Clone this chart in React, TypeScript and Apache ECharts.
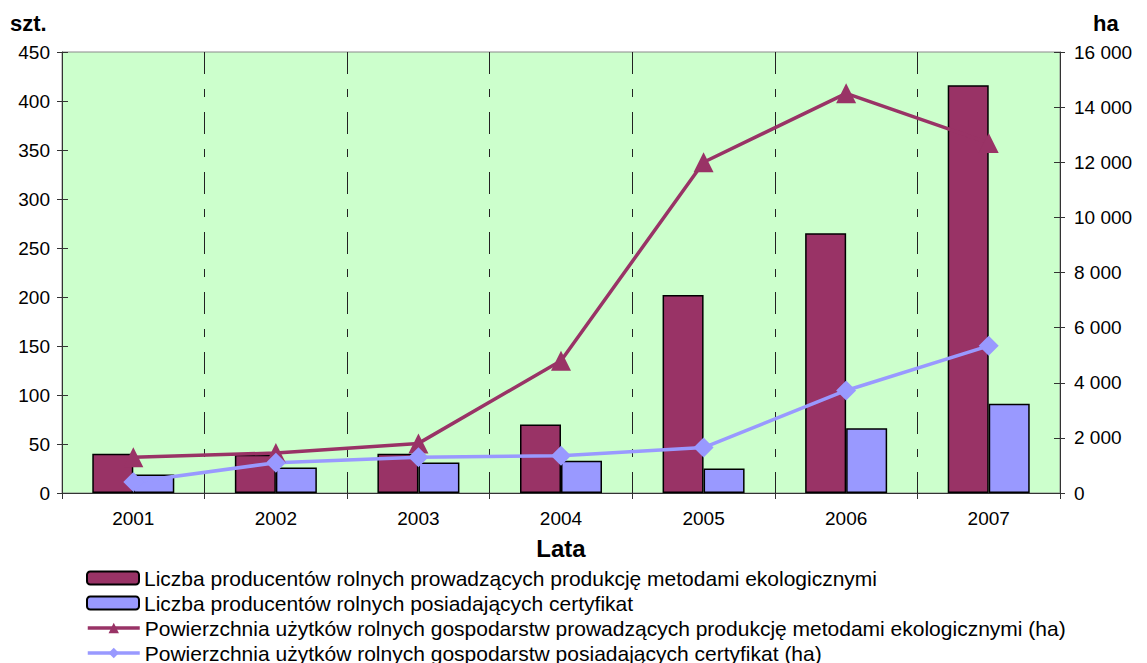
import React, { useEffect, useRef } from "react";
import * as echarts from "echarts";

const years = ["2001", "2002", "2003", "2004", "2005", "2006", "2007"];
const producersEco = [40, 39, 40, 70, 202, 265, 416];
const producersCert = [19, 26, 31, 33, 25, 66, 91];
const areaEco = [1300, 1450, 1800, 4800, 12000, 14500, 12700];
const areaCert = [400, 1100, 1300, 1350, 1650, 3720, 5340];

const seriesNames = [
  "Liczba producentów rolnych prowadzących produkcję metodami ekologicznymi",
  "Liczba producentów rolnych posiadających certyfikat",
  "Powierzchnia użytków rolnych gospodarstw prowadzących produkcję metodami ekologicznymi (ha)",
  "Powierzchnia użytków rolnych gospodarstw posiadających certyfikat (ha)",
];

const FONT = "'Liberation Sans', Arial, sans-serif";
const MAROON = "#993366";
const LILAC = "#9999FF";

export default function App() {
  const ref = useRef<HTMLDivElement>(null);
  useEffect(() => {
    document.body.style.margin = "0";
    const chart = echarts.init(ref.current!, null, { renderer: "svg" });
    const labelStyle = { color: "#000", fontSize: 19, fontFamily: FONT };
    const legends = seriesNames.map((name, i) => ({
      orient: "vertical",
      left: 86,
      top: 567 + i * 25,
      padding: 0,
      itemWidth: 52,
      itemHeight: 13,
      lineStyle: i >= 2 ? { width: 3.5 } : undefined,
      textStyle: { color: "#000", fontSize: 21, lineHeight: 22, fontFamily: FONT },
      data: [name],
    }));
    chart.setOption({
      animation: false,
      backgroundColor: "#fff",
      textStyle: { fontFamily: FONT },
      grid: {
        left: 62,
        right: 87,
        top: 52,
        bottom: 170,
        show: true,
        backgroundColor: "#CCFFCC",
        borderColor: "#8a8a8a",
        borderWidth: 1,
      },
      graphic: [
        { type: "text", left: 10, top: 12, style: { text: "szt.", font: `bold 22px ${FONT}`, fill: "#000" } },
        { type: "text", left: 1093, top: 12, style: { text: "ha", font: `bold 22px ${FONT}`, fill: "#000" } },
      ],
      legend: legends,
      xAxis: {
        type: "category",
        data: years,
        boundaryGap: true,
        name: "Lata",
        nameLocation: "middle",
        nameGap: 43,
        nameTextStyle: { color: "#000", fontSize: 24, fontWeight: "bold", fontFamily: FONT },
        axisLine: { lineStyle: { color: "#333", width: 1 } },
        axisTick: { show: true, length: 6, lineStyle: { color: "#333" } },
        axisLabel: { ...labelStyle, margin: 16 },
        splitLine: { show: true, lineStyle: { color: "#222", width: 1, type: [22, 15, 8, 15] } },
      },
      yAxis: [
        {
          type: "value",
          min: 0,
          max: 450,
          interval: 50,
          position: "left",
          axisLine: { show: true, lineStyle: { color: "#333" } },
          axisTick: { show: true, length: 5, lineStyle: { color: "#333" } },
          axisLabel: { ...labelStyle, margin: 12 },
          splitLine: { show: false },
        },
        {
          type: "value",
          min: 0,
          max: 16000,
          interval: 2000,
          position: "right",
          axisLine: { show: true, lineStyle: { color: "#333" } },
          axisTick: { show: true, length: 5, lineStyle: { color: "#333" } },
          axisLabel: {
            ...labelStyle,
            margin: 14,
            formatter: (v: number) => String(v).replace(/\B(?=(\d{3})+(?!\d))/g, " "),
          },
          splitLine: { show: false },
        },
        {
          type: "value",
          min: 0,
          max: 450,
          interval: 50,
          position: "left",
          axisLine: { show: false },
          axisTick: { show: true, inside: true, length: 6, lineStyle: { color: "#333" } },
          axisLabel: { show: false },
          splitLine: { show: false },
        },
        {
          type: "value",
          min: 0,
          max: 16000,
          interval: 2000,
          position: "right",
          axisLine: { show: false },
          axisTick: { show: true, inside: true, length: 6, lineStyle: { color: "#333" } },
          axisLabel: { show: false },
          splitLine: { show: false },
        },
      ],
      series: [
        {
          name: seriesNames[0],
          type: "bar",
          yAxisIndex: 0,
          data: producersEco,
          barWidth: 41,
          barGap: "0%",
          itemStyle: { color: MAROON, borderColor: "#000", borderWidth: 1.5 },
        },
        {
          name: seriesNames[1],
          type: "bar",
          yAxisIndex: 0,
          data: producersCert,
          barWidth: 41,
          barGap: "0%",
          itemStyle: { color: LILAC, borderColor: "#000", borderWidth: 1.5 },
        },
        {
          name: seriesNames[2],
          type: "line",
          yAxisIndex: 1,
          data: areaEco,
          symbol: "triangle",
          symbolSize: 20,
          lineStyle: { color: MAROON, width: 3.5 },
          itemStyle: { color: MAROON },
          z: 3,
        },
        {
          name: seriesNames[3],
          type: "line",
          yAxisIndex: 1,
          data: areaCert,
          symbol: "diamond",
          symbolSize: 20,
          lineStyle: { color: LILAC, width: 3.5 },
          itemStyle: { color: LILAC },
          z: 3,
        },
      ],
    });
    return () => chart.dispose();
  }, []);
  return <div ref={ref} style={{ width: 1147, height: 663 }} />;
}
